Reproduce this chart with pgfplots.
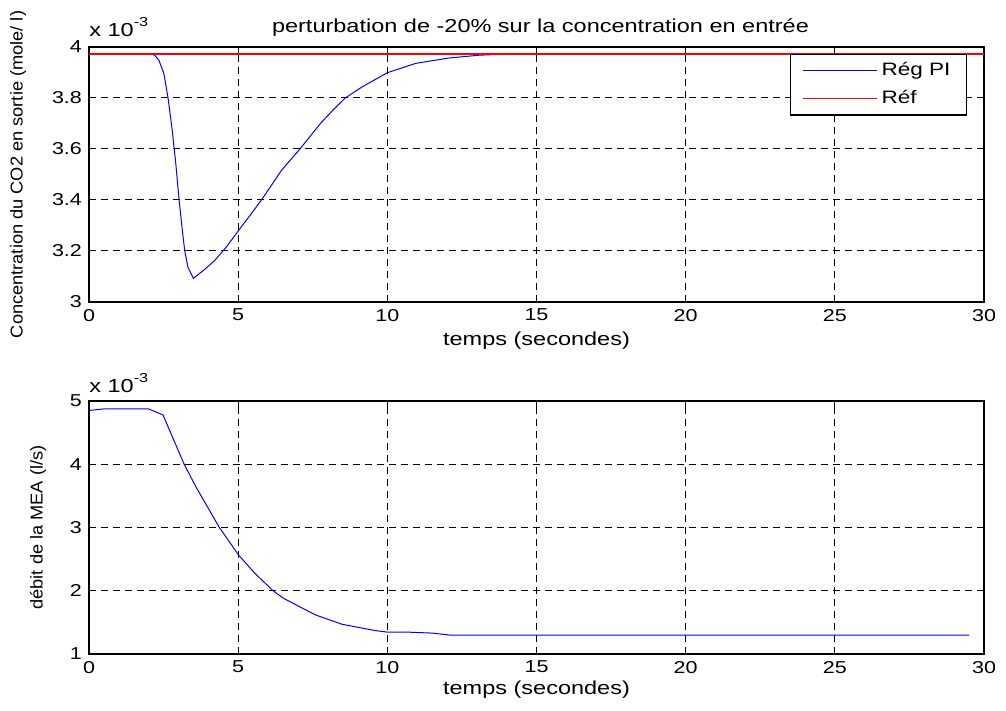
\documentclass[border=0pt]{standalone}
\usepackage{fontspec}
\setmainfont{Liberation Sans}
\newfontfamily\widefont[FakeStretch=1.25]{Liberation Sans}
\newfontfamily\ylfont[FakeStretch=1.06]{Liberation Sans}
\usepackage{pgfplots}
\pgfplotsset{compat=1.18}
\newcommand{\mult}{{\widefont\fontsize{9.4pt}{11pt}\selectfont x 10\raisebox{5pt}{\fontsize{6.5pt}{8pt}\selectfont -3}}}
\begin{document}
\begin{tikzpicture}
\path[use as bounding box] (0,0) rectangle (503pt,355.5pt);
\pgfplotsset{
  myax/.style={
    scale only axis,
    clip=false,
    width=447.5pt,
    xmin=0, xmax=30,
    xtick={0,5,10,15,20,25,30},
    grid=major,
    major grid style={black, line width=0.5pt, dash pattern=on 3.5pt off 2.5pt},
    tick align=inside,
    major tick length=3pt,
    tick style={black, line width=0.5pt},
    axis line style={black, line width=0.6pt},
    /pgf/number format/assume math mode=true,
    tick label style={font=\widefont\fontsize{8.6pt}{10pt}\selectfont},
    xlabel style={font=\widefont\fontsize{9.4pt}{11pt}\selectfont},
    ylabel style={font=\ylfont\fontsize{8.6pt}{10pt}\selectfont},
    xlabel={temps (secondes)},
  }
}
\begin{axis}[myax, name=top,
  at={(44.5pt,204.5pt)}, anchor=south west,
  height=127.5pt,
  ymin=3, ymax=4,
  ytick={3,3.2,3.4,3.6,3.8,4},
  yticklabels={3,3.2,3.4,3.6,3.8,4},
  xlabel style={at={(axis description cs:0.5,-0.15)}, anchor=center},
  ylabel={Concentration du CO2 en sortie (mole/ l)},
  ylabel style={at={(axis description cs:-0.079,0.5)}, anchor=center},
  legend style={at={(axis description cs:0.981,0.973)}, anchor=north east,
    draw=black, line width=0.6pt, font=\widefont\fontsize{9pt}{11pt}\selectfont,
    row sep=2pt, inner xsep=6pt, inner ysep=2pt},
  legend cell align=left,
  legend image code/.code={\draw[#1, line width=0.6pt] (0pt,0pt) -- (37pt,0pt);},
]
\addplot[blue, line width=0.5pt] coordinates {
(0,3.973) (2.05,3.973) (2.2,3.968) (2.34,3.949) (2.51,3.896) (2.65,3.80)
(2.79,3.673) (2.91,3.542) (3.02,3.40) (3.13,3.28) (3.21,3.20) (3.32,3.135)
(3.50,3.093) (3.85,3.125) (4.2,3.161) (4.6,3.215) (5.01,3.28) (5.4,3.34)
(5.78,3.40) (6.1,3.455) (6.45,3.516) (7.07,3.60) (7.8,3.706) (8.2,3.755)
(8.59,3.80) (9.16,3.844) (10.0,3.899) (10.96,3.936) (12.08,3.957)
(13.1,3.968) (14.2,3.973) (30,3.973)
};
\addlegendentry{Rég PI}
\addplot[red, line width=0.7pt] coordinates {(0,3.973) (30,3.973)};
\addlegendentry{Réf}
\end{axis}
\node[anchor=base west, inner sep=0pt] at ([yshift=5pt]top.north west) {\mult};
\node[anchor=base, inner sep=0pt, font=\widefont\fontsize{9.4pt}{11pt}\selectfont] at ([xshift=2pt,yshift=7pt]top.north) {perturbation de -20\% sur la concentration en entrée};
\begin{axis}[myax, name=bot,
  at={(44.5pt,28.5pt)}, anchor=south west,
  height=126.5pt,
  ymin=1, ymax=5,
  ytick={1,2,3,4,5},
  xlabel style={at={(axis description cs:0.5,-0.142)}, anchor=center},
  ylabel={débit de la MEA (l/s)},
  ylabel style={at={(axis description cs:-0.057,0.5)}, anchor=center},
]
\addplot[blue, line width=0.5pt] coordinates {
(0,4.85) (0.48,4.874) (2.0,4.874) (2.48,4.78) (3.19,4.0) (3.58,3.646)
(4.37,3.0) (5.01,2.567) (5.55,2.28) (6.17,2.0) (6.51,1.883) (7.58,1.62)
(8.48,1.47) (9.6,1.37) (10.0,1.346) (10.68,1.346) (11.52,1.33) (12.08,1.30)
(29.5,1.30)
};
\end{axis}
\node[anchor=base west, inner sep=0pt] at ([yshift=4.5pt]bot.north west) {\mult};
\end{tikzpicture}
\end{document}
